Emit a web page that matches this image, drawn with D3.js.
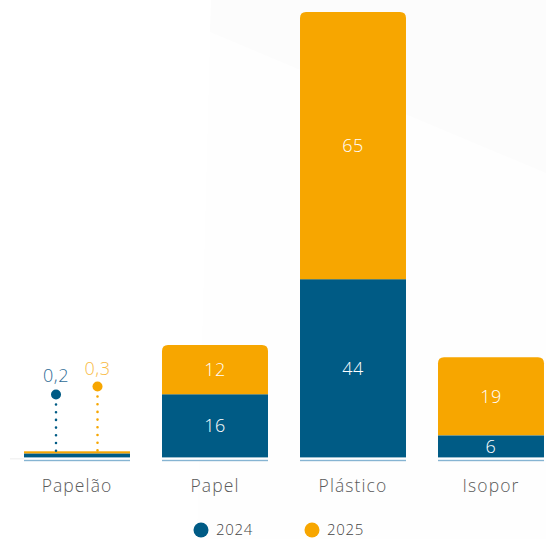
<!DOCTYPE html>
<html><head><meta charset="utf-8">
<script src="https://cdn.jsdelivr.net/npm/d3@7/dist/d3.min.js"></script>
<style>
html,body{margin:0;padding:0;background:#fff;}
svg{display:block;font-family:"Open Sans","Lato",sans-serif;}
</style></head>
<body>
<svg id="chart" width="546" height="539"></svg>
<script>
const categories = ["Papelão", "Papel", "Plástico", "Isopor"];
const values2024 = [0.2, 16, 44, 6];
const values2025 = [0.3, 12, 65, 19];
const seriesNames = ["2024", "2025"];
const valueLabels2024 = ["0,2", "16", "44", "6"];
const valueLabels2025 = ["0,3", "12", "65", "19"];

const colors = {"2024": "#005b85", "2025": "#f7a600"};
const svg = d3.select("#chart");

// faint background shapes
svg.append("path").attr("d", "M211,0 L546,0 L546,539 L197,539 Z").attr("fill", "#fefefe");
svg.append("path").attr("d", "M211,0 L210,32 L546,173 L546,0 Z").attr("fill", "#fcfcfc");

const x = d3.scaleBand().domain(categories).range([8, 560]).paddingInner(0.232).paddingOuter(0.116);
const y = d3.scaleLinear().domain([0, 109]).range([460, 12]);
const visBottom = 457.4;

const rows = categories.map((c, i) => ({cat: c, "2024": values2024[i], "2025": values2025[i], l2024: valueLabels2024[i], l2025: valueLabels2025[i]}));
const stack = d3.stack().keys(seriesNames)(rows);

function topRounded(x0, y0, w, h, r) {
  r = Math.min(r, h);
  return `M${x0},${y0+h} L${x0},${y0+r} Q${x0},${y0} ${x0+r},${y0} L${x0+w-r},${y0} Q${x0+w},${y0} ${x0+w},${y0+r} L${x0+w},${y0+h} Z`;
}

const minH = {"2024": 4, "2025": 2.1};
stack.forEach((layer, li) => {
  const key = layer.key;
  layer.forEach((d, i) => {
    const cat = categories[i];
    let y0 = Math.min(y(d[0]), visBottom), y1 = y(d[1]);
    let h = y0 - y1;
    if (y(d[0]) - y(d[1]) < minH[key]) {
      // tiny values: draw with minimum visible height
      if (li === 0) { y0 = visBottom; h = minH[key]; y1 = y0 - h; }
      else { y0 = visBottom - minH["2024"]; h = minH[key]; y1 = y0 - h; }
    }
    const isTop = li === stack.length - 1;
    if (isTop && h > 6) {
      svg.append("path").attr("d", topRounded(x(cat), y1, x.bandwidth(), h, 6)).attr("fill", colors[key]);
    } else {
      svg.append("rect").attr("x", x(cat)).attr("y", y1).attr("width", x.bandwidth()).attr("height", h).attr("fill", colors[key]);
    }
    if (h > 15) {
      svg.append("text").attr("x", x(cat) + x.bandwidth()/2).attr("y", (y0 + y1)/2 + 6.5)
        .attr("text-anchor", "middle").attr("fill", "#fff").attr("font-size", 18).attr("font-weight", 300)
        .attr("letter-spacing", 0.6)
        .text(key === "2024" ? rows[i].l2024 : rows[i].l2025);
    }
  });
});

// faint baseline shadow at left
svg.append("rect").attr("x", 10).attr("y", 458.2).attr("width", 14).attr("height", 1.2).attr("fill", "#f0f0f0");

// light blue underline under each bar
categories.forEach(c => {
  svg.append("rect").attr("x", x(c)).attr("y", 459.8).attr("width", x.bandwidth()).attr("height", 1.4).attr("fill", "#86b4d2");
});

// lollipop annotations for the tiny Papelão values
const small = [
  {key: "2024", cx: x("Papelão") + 32, dotY: 394.5, lab: valueLabels2024[0], labY: 382, color: "#2f6c96"},
  {key: "2025", cx: x("Papelão") + 73.5, dotY: 386.5, lab: valueLabels2025[0], labY: 374.5, color: "#f8bb45"}
];
small.forEach(s => {
  svg.append("line").attr("x1", s.cx).attr("x2", s.cx).attr("y1", s.dotY + 10).attr("y2", 451)
    .attr("stroke", colors[s.key]).attr("stroke-width", 2.6).attr("stroke-dasharray", "0,7.7").attr("stroke-linecap", "round");
  svg.append("circle").attr("cx", s.cx).attr("cy", s.dotY).attr("r", 5).attr("fill", colors[s.key]);
  svg.append("text").attr("x", s.cx).attr("y", s.labY).attr("text-anchor", "middle")
    .attr("fill", s.color).attr("font-size", 18).attr("font-weight", 300).attr("letter-spacing", 0.6).text(s.lab);
});

// category axis
const xAxis = d3.axisBottom(x).tickSize(0).tickPadding(0);
const gx = svg.append("g").attr("transform", "translate(0,491.5)").call(xAxis);
gx.select(".domain").remove();
gx.selectAll("text").attr("dy", 0).attr("fill", "#5a5a5a").attr("font-size", 17.5).attr("font-weight", 300)
  .attr("letter-spacing", 1.1)
  .attr("font-family", "\"Open Sans\",\"Lato\",sans-serif");

// legend
const legend = svg.append("g");
const legendX = [201, 312];
seriesNames.forEach((s, i) => {
  legend.append("circle").attr("cx", legendX[i]).attr("cy", 530).attr("r", 7.5).attr("fill", colors[s]);
  legend.append("text").attr("x", legendX[i] + 15).attr("y", 535).attr("fill", "#444")
    .attr("font-size", 15).attr("font-weight", 300).attr("letter-spacing", 0.7).text(s);
});
</script>
</body></html>
